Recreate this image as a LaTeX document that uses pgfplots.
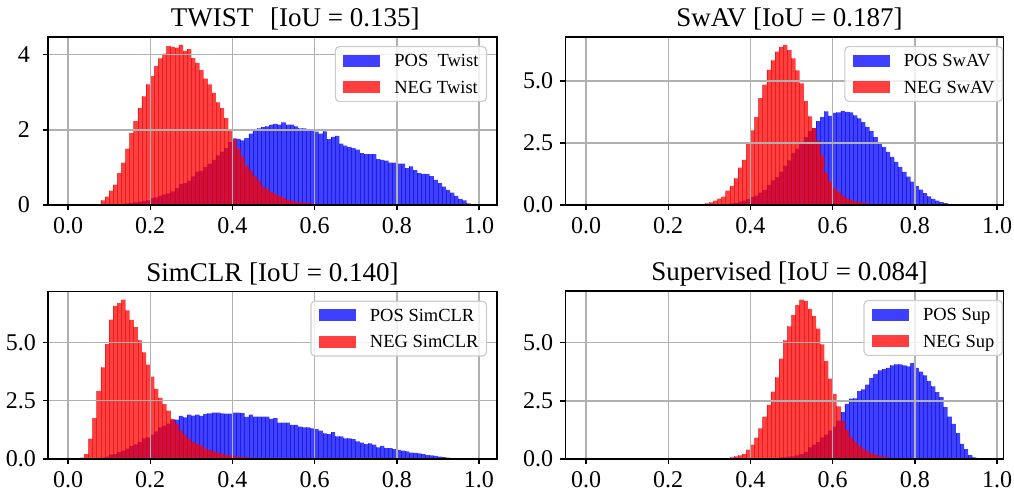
\documentclass[border=0pt]{standalone}
\usepackage{fontspec}
\setmainfont{Liberation Serif}
\usepackage{pgfplots}
\usepackage{pgfplotstable}
\pgfplotsset{compat=1.18}
\definecolor{gridc}{HTML}{B0B0B0}
\definecolor{legc}{HTML}{CCCCCC}
\pgfplotsset{
  histax/.style={
    scale only axis, axis on top, anchor=south west,
    ymin=0, grid=major,
    major grid style={draw=gridc, line width=0.7pt},
    axis line style={line width=0.7pt},
    every tick/.style={black, line width=0.7pt},
    tick align=outside, major tick length=2.5pt,
    tick pos=left,
    xtick={0,0.2,0.4,0.6,0.8,1},
    xticklabels={0.0,0.2,0.4,0.6,0.8,1.0},
    ticklabel style={font=\fontsize{12}{14}\selectfont},
    title style={font=\fontsize{13.5}{16}\selectfont, anchor=base, at={(0.5,1)}, yshift=-1pt},
    legend cell align=left,
    legend style={at={(1,1)}, anchor=north east, xshift=-5pt, yshift=-4.5pt,
      draw=legc, line width=0.6pt, rounded corners=2pt, fill=white,
      fill opacity=0.8, text opacity=1,
      font=\fontsize{9.25}{11}\selectfont, inner xsep=4pt, inner ysep=4pt, row sep=7pt,
      nodes={inner sep=0pt, text height=6.2pt, text depth=0pt},
      /tikz/every odd column/.append style={column sep=7pt}},
  },
  posimg/.style={legend image code/.code={\fill[sharp corners, blue, fill opacity=0.75, draw=none] (0pt,-3pt) rectangle (18.5pt,3pt);}},
  negimg/.style={legend image code/.code={\fill[sharp corners, red, fill opacity=0.75, draw=none] (0pt,-3pt) rectangle (18.5pt,3pt);}},
  posbar/.style={const plot, fill=blue, fill opacity=0.75, draw=none, forget plot},
  negbar/.style={const plot, fill=red, fill opacity=0.75, draw=none, forget plot},
  posseam/.style={ycomb, draw=blue!85!black, draw opacity=0.55, line width=0.3pt, mark=none, forget plot},
  negseam/.style={ycomb, draw=red!85!black, draw opacity=0.55, line width=0.3pt, mark=none, forget plot},
}
% ---------- data: left edge of each 0.01-wide bin, density ----------
\pgfplotstableread{
x y
0.12 0.02
0.13 0.03
0.14 0.04
0.15 0.05
0.16 0.07
0.17 0.09
0.18 0.11
0.19 0.12
0.20 0.18
0.21 0.20
0.22 0.25
0.23 0.28
0.24 0.31
0.25 0.36
0.26 0.45
0.27 0.56
0.28 0.58
0.29 0.65
0.30 0.76
0.31 0.89
0.32 0.91
0.33 1.01
0.34 1.10
0.35 1.20
0.36 1.32
0.37 1.42
0.38 1.51
0.39 1.67
0.40 1.77
0.41 1.76
0.42 1.72
0.43 1.78
0.44 1.90
0.45 2.00
0.46 2.04
0.47 2.07
0.48 2.09
0.49 2.14
0.50 2.16
0.51 2.14
0.52 2.20
0.53 2.14
0.54 2.14
0.55 2.09
0.56 2.04
0.57 2.04
0.58 2.00
0.59 1.99
0.60 1.95
0.61 1.90
0.62 1.96
0.63 1.75
0.64 1.81
0.65 1.84
0.66 1.63
0.67 1.58
0.68 1.54
0.69 1.51
0.70 1.47
0.71 1.38
0.72 1.35
0.73 1.35
0.74 1.35
0.75 1.22
0.76 1.20
0.77 1.18
0.78 1.13
0.79 1.13
0.80 1.10
0.81 1.10
0.82 0.98
0.83 1.03
0.84 0.93
0.85 0.85
0.86 0.83
0.87 0.83
0.88 0.77
0.89 0.67
0.90 0.58
0.91 0.49
0.92 0.40
0.93 0.33
0.94 0.24
0.95 0.16
0.96 0.12
0.97 0.04
0.98 0.02
0.99 0
}\twpos
\pgfplotstableread{
x y
0.07 0.02
0.08 0.12
0.09 0.22
0.10 0.38
0.11 0.54
0.12 0.85
0.13 1.13
0.14 1.50
0.15 1.91
0.16 2.23
0.17 2.58
0.18 2.89
0.19 3.21
0.20 3.43
0.21 3.70
0.22 3.90
0.23 4.03
0.24 4.23
0.25 4.21
0.26 4.19
0.27 4.26
0.28 4.10
0.29 4.15
0.30 3.91
0.31 3.78
0.32 3.59
0.33 3.36
0.34 3.21
0.35 2.98
0.36 2.73
0.37 2.58
0.38 2.31
0.39 1.98
0.40 1.74
0.41 1.50
0.42 1.29
0.43 1.05
0.44 0.91
0.45 0.76
0.46 0.65
0.47 0.49
0.48 0.43
0.49 0.34
0.50 0.28
0.51 0.24
0.52 0.18
0.53 0.13
0.54 0.11
0.55 0.09
0.56 0.07
0.57 0.06
0.58 0.05
0.59 0.04
0.60 0.03
0.61 0.02
0.62 0
}\twneg
\pgfplotstableread{
x y
0.31 0.01
0.32 0.02
0.33 0.03
0.34 0.05
0.35 0.07
0.36 0.09
0.37 0.14
0.38 0.18
0.39 0.24
0.40 0.33
0.41 0.38
0.42 0.50
0.43 0.61
0.44 0.81
0.45 0.99
0.46 1.12
0.47 1.35
0.48 1.59
0.49 1.80
0.50 2.10
0.51 2.26
0.52 2.50
0.53 2.74
0.54 2.98
0.55 3.10
0.56 3.38
0.57 3.55
0.58 3.78
0.59 3.60
0.60 3.72
0.61 3.74
0.62 3.80
0.63 3.76
0.64 3.74
0.65 3.62
0.66 3.50
0.67 3.34
0.68 3.15
0.69 2.98
0.70 2.74
0.71 2.54
0.72 2.34
0.73 2.14
0.74 1.94
0.75 1.74
0.76 1.54
0.77 1.34
0.78 1.14
0.79 0.94
0.80 0.76
0.81 0.62
0.82 0.48
0.83 0.35
0.84 0.25
0.85 0.18
0.86 0.12
0.87 0.08
0.88 0.05
0.89 0.03
0.90 0.02
0.91 0
}\swpos
\pgfplotstableread{
x y
0.28 0.02
0.29 0.07
0.30 0.11
0.31 0.18
0.32 0.26
0.33 0.34
0.34 0.58
0.35 0.77
0.36 1.07
0.37 1.51
0.38 1.82
0.39 2.47
0.40 3.01
0.41 3.55
0.42 4.31
0.43 4.86
0.44 5.45
0.45 5.84
0.46 6.19
0.47 6.38
0.48 6.46
0.49 6.26
0.50 5.92
0.51 5.43
0.52 4.91
0.53 4.19
0.54 3.58
0.55 3.10
0.56 2.60
0.57 2.00
0.58 1.30
0.59 0.95
0.60 0.68
0.61 0.54
0.62 0.38
0.63 0.28
0.64 0.20
0.65 0.16
0.66 0.12
0.67 0.09
0.68 0.07
0.69 0.05
0.70 0.04
0.71 0.03
0.72 0.02
0.73 0
}\swneg
\pgfplotstableread{
x y
0.07 0.03
0.08 0.06
0.09 0.10
0.10 0.19
0.11 0.21
0.12 0.29
0.13 0.36
0.14 0.44
0.15 0.56
0.16 0.63
0.17 0.72
0.18 0.89
0.19 0.93
0.20 1.05
0.21 1.19
0.22 1.36
0.23 1.43
0.24 1.52
0.25 1.68
0.26 1.69
0.27 1.85
0.28 1.79
0.29 1.91
0.30 1.86
0.31 1.91
0.32 1.85
0.33 1.93
0.34 1.96
0.35 1.99
0.36 1.99
0.37 1.96
0.38 1.95
0.39 1.95
0.40 1.99
0.41 1.99
0.42 1.97
0.43 1.81
0.44 1.91
0.45 1.82
0.46 1.82
0.47 1.82
0.48 1.82
0.49 1.72
0.50 1.76
0.51 1.56
0.52 1.56
0.53 1.56
0.54 1.46
0.55 1.47
0.56 1.39
0.57 1.36
0.58 1.36
0.59 1.32
0.60 1.28
0.61 1.22
0.62 1.10
0.63 1.07
0.64 1.15
0.65 0.97
0.66 0.97
0.67 0.89
0.68 0.89
0.69 0.85
0.70 0.76
0.71 0.70
0.72 0.64
0.73 0.67
0.74 0.62
0.75 0.50
0.76 0.56
0.77 0.47
0.78 0.47
0.79 0.42
0.80 0.39
0.81 0.36
0.82 0.33
0.83 0.27
0.84 0.26
0.85 0.24
0.86 0.21
0.87 0.17
0.88 0.16
0.89 0.13
0.90 0.10
0.91 0.08
0.92 0.06
0.93 0.04
0.94 0.03
0.95 0.01
0.96 0
}\scpos
\pgfplotstableread{
x y
0.03 0.06
0.04 0.21
0.05 0.87
0.06 1.75
0.07 2.91
0.08 3.93
0.09 4.93
0.10 5.99
0.11 6.58
0.12 6.70
0.13 6.85
0.14 6.38
0.15 5.97
0.16 5.66
0.17 5.09
0.18 4.58
0.19 4.05
0.20 3.54
0.21 3.01
0.22 2.62
0.23 2.36
0.24 2.08
0.25 1.72
0.26 1.50
0.27 1.22
0.28 1.05
0.29 0.86
0.30 0.72
0.31 0.64
0.32 0.58
0.33 0.45
0.34 0.38
0.35 0.32
0.36 0.27
0.37 0.22
0.38 0.18
0.39 0.15
0.40 0.12
0.41 0.10
0.42 0.08
0.43 0.07
0.44 0.06
0.45 0.05
0.46 0.04
0.47 0.03
0.48 0.03
0.49 0.02
0.50 0.02
0.51 0
}\scneg
\pgfplotstableread{
x y
0.42 0.01
0.43 0.01
0.44 0.02
0.45 0.03
0.46 0.04
0.47 0.06
0.48 0.07
0.49 0.10
0.50 0.11
0.51 0.16
0.52 0.22
0.53 0.30
0.54 0.50
0.55 0.62
0.56 0.72
0.57 0.93
0.58 1.05
0.59 1.22
0.60 1.39
0.61 1.65
0.62 2.01
0.63 2.37
0.64 2.59
0.65 2.61
0.66 2.92
0.67 2.99
0.68 3.20
0.69 3.49
0.70 3.66
0.71 3.81
0.72 3.86
0.73 3.92
0.74 4.02
0.75 4.07
0.76 4.07
0.77 4.02
0.78 3.98
0.79 4.12
0.80 3.92
0.81 3.75
0.82 3.59
0.83 3.35
0.84 3.12
0.85 2.87
0.86 2.66
0.87 2.23
0.88 1.82
0.89 1.51
0.90 1.11
0.91 0.65
0.92 0.42
0.93 0.17
0.94 0.07
0.95 0.03
0.96 0
}\sppos
\pgfplotstableread{
x y
0.33 0.01
0.34 0.03
0.35 0.07
0.36 0.11
0.37 0.16
0.38 0.22
0.39 0.40
0.40 0.62
0.41 0.92
0.42 1.32
0.43 1.82
0.44 2.33
0.45 2.90
0.46 3.51
0.47 4.31
0.48 5.10
0.49 5.70
0.50 6.18
0.51 6.61
0.52 6.85
0.53 6.80
0.54 6.44
0.55 6.14
0.56 5.60
0.57 4.93
0.58 4.21
0.59 3.45
0.60 2.80
0.61 2.26
0.62 1.65
0.63 1.25
0.64 0.95
0.65 0.75
0.66 0.58
0.67 0.44
0.68 0.33
0.69 0.25
0.70 0.18
0.71 0.13
0.72 0.10
0.73 0.07
0.74 0.05
0.75 0.04
0.76 0.03
0.77 0.02
0.78 0.01
0.79 0
}\spneg
\begin{document}
\begin{tikzpicture}
\path[use as bounding box] (0,0) rectangle (507pt,245.5pt);
% ---------------- TWIST ----------------
\begin{axis}[histax, at={(24pt,143pt)}, width=224.5pt, height=84pt,
  xmin=-0.0487, xmax=1.0438, ymax=4.47, ytick={0,2,4}, yticklabels={0,2,4},
  yticklabel style={xshift=-3pt},
  title={TWIST\hspace{0.62em}[IoU = 0.135]}, title style={xshift=11.4pt}]
\addplot[posbar] table {\twpos} \closedcycle;
\addplot[posseam] table {\twpos};
\addplot[negbar] table {\twneg} \closedcycle;
\addplot[negseam] table {\twneg};
\addlegendimage{posimg}\addlegendentry{POS\ \ Twist}
\addlegendimage{negimg}\addlegendentry{NEG Twist}
\end{axis}
% ---------------- SwAV ----------------
\begin{axis}[histax, at={(282.65pt,143pt)}, width=219.2pt, height=84pt,
  xmin=-0.0504, xmax=1.0163, ymax=6.78, ytick={0,2.5,5}, yticklabels={0.0,2.5,5.0},
  title={SwAV [IoU = 0.187]}, title style={xshift=2.5pt},
  legend style={xshift=4.7pt}]
\addplot[posbar] table {\swpos} \closedcycle;
\addplot[posseam] table {\swpos};
\addplot[negbar] table {\swneg} \closedcycle;
\addplot[negseam] table {\swneg};
\addlegendimage{posimg}\addlegendentry{POS SwAV}
\addlegendimage{negimg}\addlegendentry{NEG SwAV}
\end{axis}
% ---------------- SimCLR ----------------
\begin{axis}[histax, at={(24pt,16pt)}, width=224.5pt, height=83.7pt,
  xmin=-0.0487, xmax=1.0438, ymax=7.19, ytick={0,2.5,5}, yticklabels={0.0,2.5,5.0},
  title={SimCLR [IoU = 0.140]}]
\addplot[posbar] table {\scpos} \closedcycle;
\addplot[posseam] table {\scpos};
\addplot[negbar] table {\scneg} \closedcycle;
\addplot[negseam] table {\scneg};
\addlegendimage{posimg}\addlegendentry{POS SimCLR}
\addlegendimage{negimg}\addlegendentry{NEG SimCLR}
\end{axis}
% ---------------- Supervised ----------------
\begin{axis}[histax, at={(282.65pt,16pt)}, width=219.2pt, height=84pt,
  xmin=-0.0504, xmax=1.0163, ymax=7.22, ytick={0,2.5,5}, yticklabels={0.0,2.5,5.0},
  title={Supervised [IoU = 0.084]}, title style={xshift=2.5pt},
  legend style={xshift=4.7pt}]
\addplot[posbar] table {\sppos} \closedcycle;
\addplot[posseam] table {\sppos};
\addplot[negbar] table {\spneg} \closedcycle;
\addplot[negseam] table {\spneg};
\addlegendimage{posimg}\addlegendentry{POS Sup}
\addlegendimage{negimg}\addlegendentry{NEG Sup}
\end{axis}
\end{tikzpicture}
\end{document}
